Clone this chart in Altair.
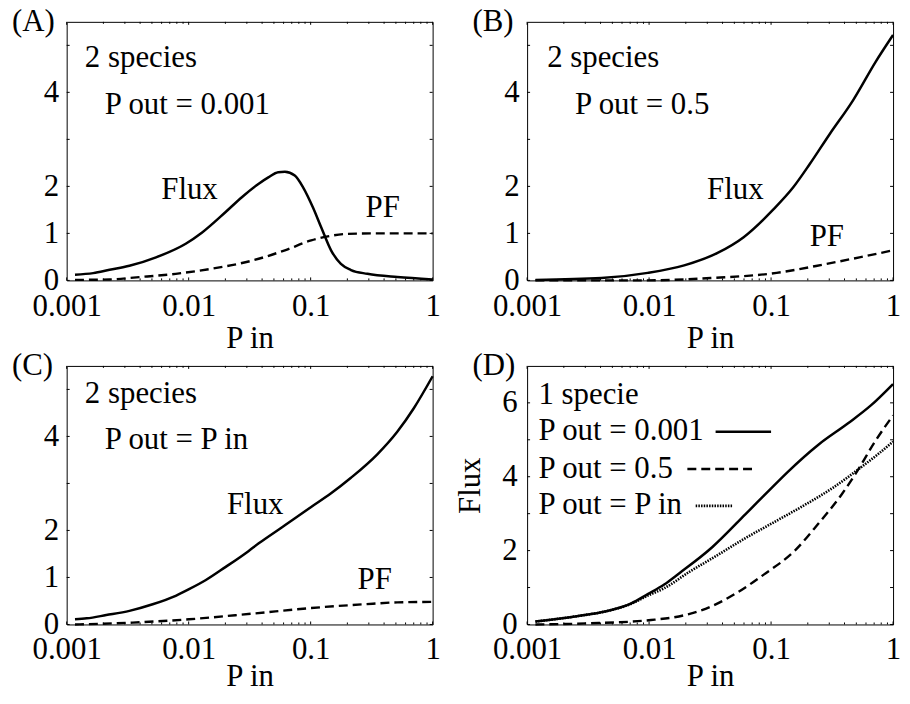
import altair as alt
import pandas as pd

# ---------------- data ----------------
# Panel A : 2 species, P out = 0.001
A_FLUX_PIN = [0.00117, 0.00165, 0.00225, 0.00327, 0.0054, 0.00946, 0.0129, 0.020, 0.0273,
              0.0373, 0.045, 0.0542, 0.0615, 0.0741, 0.0867, 0.1045, 0.122, 0.147, 0.177,
              0.214, 0.292, 0.513, 1.0]
A_FLUX = [0.12, 0.155, 0.226, 0.31, 0.49, 0.78, 1.02, 1.45, 1.77, 2.05, 2.19, 2.30, 2.31,
          2.23, 1.98, 1.55, 1.13, 0.64, 0.35, 0.22, 0.14, 0.07, 0.02]
A_PF_PIN = [0.00117, 0.00225, 0.00394, 0.00783, 0.0156, 0.033, 0.0615, 0.101, 0.147, 0.201,
            0.376, 1.0]
A_PF = [0.01, 0.02, 0.07, 0.14, 0.25, 0.42, 0.64, 0.85, 0.95, 0.99, 1.0, 1.0]

# Panel B : 2 species, P out = 0.5
B_FLUX_PIN = [0.00117, 0.00407, 0.00975, 0.0194, 0.0361, 0.0596, 0.1045, 0.152, 0.207, 0.302,
              0.467, 0.724, 1.0]
B_FLUX = [0.01, 0.05, 0.16, 0.32, 0.58, 0.92, 1.51, 1.98, 2.47, 3.11, 3.82, 4.66, 5.22]
B_PF_PIN = [0.00117, 0.00916, 0.0319, 0.111, 0.284, 0.53, 1.0]
B_PF = [0.0, 0.0, 0.05, 0.16, 0.35, 0.49, 0.64]

# Panel C : 2 species, P out = P in
C_FLUX_PIN = [0.00117, 0.00146, 0.00211, 0.00327, 0.00507, 0.00783, 0.01007, 0.01374, 0.020,
              0.0309, 0.0373, 0.0615, 0.101, 0.147, 0.214, 0.352, 0.513, 0.701, 1.0]
C_FLUX = [0.11, 0.13, 0.20, 0.29, 0.43, 0.61, 0.75, 0.94, 1.22, 1.56, 1.72, 2.11, 2.50, 2.79,
          3.12, 3.62, 4.10, 4.60, 5.28]
C_PF_PIN = [0.00117, 0.00348, 0.01007, 0.033, 0.101, 0.275, 0.513, 1.0]
C_PF = [0.0, 0.04, 0.11, 0.23, 0.35, 0.43, 0.47, 0.48]

# Panel D : 1 specie, Flux for three P out settings
D_P0001_PIN = [0.00117, 0.00263, 0.00434, 0.00714, 0.00975, 0.0133, 0.0176, 0.0329, 0.0615,
               0.0951, 0.138, 0.243, 0.425, 0.658, 1.0]
D_P0001 = [0.08, 0.23, 0.35, 0.57, 0.82, 1.08, 1.38, 2.09, 2.98, 3.61, 4.14, 4.86, 5.44, 5.93,
           6.51]
D_P05_PIN = [0.00117, 0.00316, 0.01038, 0.0194, 0.0319, 0.0526, 0.0871, 0.1567, 0.2427, 0.375,
             0.513, 0.701, 1.0]
D_P05 = [0.0, 0.03, 0.12, 0.25, 0.48, 0.86, 1.35, 2.0, 2.72, 3.5, 4.17, 4.92, 5.66]
D_PIN_PIN = [0.00117, 0.00263, 0.00434, 0.00714, 0.00975, 0.0133, 0.0213, 0.0361, 0.0596,
             0.1045, 0.183, 0.321, 0.564, 0.746, 1.0]
D_PIN = [0.08, 0.23, 0.35, 0.56, 0.78, 0.98, 1.42, 1.87, 2.31, 2.76, 3.21, 3.70, 4.29, 4.6,
         4.95]

# axis ticks / labels
X_LABELS = [0.001, 0.01, 0.1, 1]
X_MINOR = [0.002, 0.003, 0.004, 0.005, 0.006, 0.007, 0.008, 0.009,
           0.02, 0.03, 0.04, 0.05, 0.06, 0.07, 0.08, 0.09,
           0.2, 0.3, 0.4, 0.5, 0.6, 0.7, 0.8, 0.9]
Y_LABELS_ABC = [0, 1, 2, 4]
Y_TICKS_ABC = [0, 1, 2, 3, 4, 5]
Y_LABELS_D = [0, 2, 4, 6]
Y_TICKS_D = [0, 1, 2, 3, 4, 5, 6]

# annotation texts (P in, value) of their left baseline
A_NOTES = [("2 species", 0.00141, 4.55), ("P out = 0.001", 0.00205, 3.53),
           ("Flux", 0.00596, 1.73), ("PF", 0.282, 1.34)]
B_NOTES = [("2 species", 0.00146, 4.55), ("P out = 0.5", 0.00247, 3.53),
           ("Flux", 0.0299, 1.73), ("PF", 0.2075, 0.74)]
C_NOTES = [("2 species", 0.00141, 4.72), ("P out = P in", 0.00205, 3.73),
           ("Flux", 0.0206, 2.35), ("PF", 0.2427, 0.76)]
D_NOTES = [("1 specie", 0.00124, 5.97), ("P out = 0.001", 0.00124, 4.99),
           ("P out = 0.5", 0.00124, 3.96), ("P out = P in", 0.00124, 2.98)]
# legend line samples in panel D: (style, from, to, value)
D_KEYS = [("solid", 0.0351, 0.100, 5.22), ("dashed", 0.0206, 0.0718, 4.21),
          ("dotted", 0.0241, 0.0479, 3.21)]

# ---------------- styling ----------------
FONT = "Liberation Serif"
FS = 31
W, H = 368, 260
DASH = {"solid": None, "dashed": [9, 5], "dotted": [1.5, 1.2]}
WIDTH = {"solid": 2.5, "dashed": 2.4, "dotted": 2.6}


def panel(letter, curves, notes, ymax, ylabels, yticks, ytitle=None, keys=None,
          xtitle_y=67, xlabel_pad=35):
    xsc = alt.Scale(type="log", domain=[0.001, 1], nice=False)
    ysc = alt.Scale(domain=[0, ymax], nice=False, zero=False)
    xaxis = alt.Axis(values=X_LABELS, format="~g", labelBaseline="alphabetic",
                     labelPadding=xlabel_pad, title="P in", titleBaseline="alphabetic",
                     titleY=xtitle_y, titleX=W / 2, ticks=False, domain=False, grid=False,
                     labelFlush=False, labelOverlap=False)
    if ytitle:
        yaxis = alt.Axis(values=ylabels, format="d", labelPadding=10, title=ytitle,
                         titleBaseline="alphabetic", titleX=-48, titleY=120, titleAngle=270,
                         ticks=False, domain=False, grid=False, labelFlush=False,
                         labelOverlap=False)
    else:
        yaxis = alt.Axis(values=ylabels, format="d", labelPadding=8, title=None,
                         ticks=False, domain=False, grid=False, labelFlush=False,
                         labelOverlap=False)

    def X(f):
        return alt.X(f, scale=xsc, axis=xaxis)

    def Y(f):
        return alt.Y(f, scale=ysc, axis=yaxis)

    layers = []
    for xs, ys, style in curves:
        df = pd.DataFrame({"pin": xs, "val": ys})
        kw = dict(color="black", strokeWidth=WIDTH[style], interpolate="monotone")
        if DASH[style]:
            kw["strokeDash"] = DASH[style]
        layers.append(alt.Chart(df).mark_line(**kw).encode(x=X("pin:Q"), y=Y("val:Q")))

    # inward tick marks on all four sides
    xmaj = pd.DataFrame({"t": X_LABELS})
    xmin = pd.DataFrame({"t": X_MINOR})
    yt = pd.DataFrame({"t": yticks})
    for df, ln in ((xmaj, 3), (xmin, 2)):
        layers.append(alt.Chart(df).mark_rule(color="black", strokeWidth=1).encode(
            x=X("t:Q"), y=alt.value(H), y2=alt.value(H - ln)))
        layers.append(alt.Chart(df).mark_rule(color="black", strokeWidth=1).encode(
            x=X("t:Q"), y=alt.value(0), y2=alt.value(ln)))
    layers.append(alt.Chart(yt).mark_rule(color="black", strokeWidth=1).encode(
        y=Y("t:Q"), x=alt.value(0), x2=alt.value(3)))
    layers.append(alt.Chart(yt).mark_rule(color="black", strokeWidth=1).encode(
        y=Y("t:Q"), x=alt.value(W), x2=alt.value(W - 3)))

    # legend samples
    if keys:
        for style, x1, x2, v in keys:
            kdf = pd.DataFrame({"x1": [x1], "x2": [x2], "v": [v]})
            kw = dict(color="black", strokeWidth=WIDTH[style])
            if DASH[style]:
                kw["strokeDash"] = DASH[style]
            layers.append(alt.Chart(kdf).mark_rule(**kw).encode(
                x=X("x1:Q"), x2="x2:Q", y=Y("v:Q")))

    ndf = pd.DataFrame(notes, columns=["label", "pin", "val"])
    layers.append(alt.Chart(ndf).mark_text(align="left", baseline="alphabetic", font=FONT,
                                           fontSize=FS, color="black").encode(
        x=X("pin:Q"), y=Y("val:Q"), text="label:N"))

    ldf = pd.DataFrame({"label": [letter]})
    layers.append(alt.Chart(ldf).mark_text(align="left", baseline="alphabetic", font=FONT,
                                           fontSize=FS, color="black").encode(
        x=alt.value(-55), y=alt.value(9), text="label:N"))

    return alt.layer(*layers).properties(width=W, height=H)


pA = panel("(A)", [(A_FLUX_PIN, A_FLUX, "solid"), (A_PF_PIN, A_PF, "dashed")], A_NOTES,
           5.5, Y_LABELS_ABC, Y_TICKS_ABC)
pB = panel("(B)", [(B_FLUX_PIN, B_FLUX, "solid"), (B_PF_PIN, B_PF, "dashed")], B_NOTES,
           5.5, Y_LABELS_ABC, Y_TICKS_ABC)
pC = panel("(C)", [(C_FLUX_PIN, C_FLUX, "solid"), (C_PF_PIN, C_PF, "dashed")], C_NOTES,
           5.5, Y_LABELS_ABC, Y_TICKS_ABC, xtitle_y=61, xlabel_pad=34)
pD = panel("(D)", [(D_P0001_PIN, D_P0001, "solid"), (D_P05_PIN, D_P05, "dashed"),
                   (D_PIN_PIN, D_PIN, "dotted")], D_NOTES,
           7, Y_LABELS_D, Y_TICKS_D, ytitle="Flux", keys=D_KEYS, xtitle_y=61, xlabel_pad=34)

chart = alt.concat(pA, pB, pC, pD, columns=2, spacing={"row": 86, "column": 95},
                   bounds="flush").properties(
    padding={"left": 3, "top": -5, "right": 0, "bottom": 0},
    background="white",
).configure_view(stroke="black", strokeWidth=1).configure_axis(
    labelFont=FONT, labelFontSize=FS, labelColor="black",
    titleFont=FONT, titleFontSize=FS, titleFontWeight="normal", titleColor="black",
)

chart.save("out.html", embed_options={"renderer": "svg", "actions": False})
